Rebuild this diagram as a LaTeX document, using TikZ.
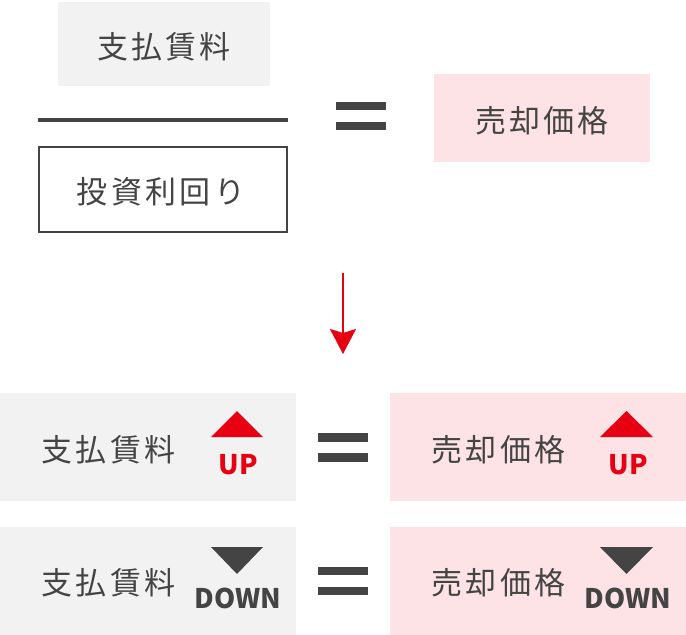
\documentclass[tikz,border=0pt]{standalone}
\usepackage{fontspec}
\setmainfont{Noto Sans CJK JP}
\usetikzlibrary{arrows.meta}
\definecolor{txt}{HTML}{444444}
\definecolor{graybg}{HTML}{F2F2F2}
\definecolor{pinkbg}{HTML}{FDE3E6}
\definecolor{upred}{HTML}{E60012}
\newcommand{\ls}{\kern3.3pt}
\begin{document}
\begin{tikzpicture}[x=1pt,y=-1pt,
  jp/.style={text=txt, inner sep=0, font=\fontsize{31}{31}\selectfont},
  graybox/.style={fill=graybg, inner sep=0, outer sep=0},
  pinkbox/.style={fill=pinkbg, inner sep=0, outer sep=0},
  lineframe/.style={draw=txt, line width=2pt, inner sep=0, outer sep=0},
  eqbar/.style={fill=txt},
  uplabel/.style={text=upred, inner sep=0, font=\fontsize{27}{27}\selectfont\bfseries},
  downlabel/.style={text=txt, inner sep=0, font=\fontsize{27}{27}\selectfont\bfseries},
  uptri/.style={fill=upred},
  downtri/.style={fill=txt},
  flow/.style={draw=upred, line width=2pt, -{Stealth[length=25pt, width=26pt, inset=4pt]}}
]
\useasboundingbox (0,0) rectangle (686,635);
% top formula
\node[graybox, minimum width=212pt, minimum height=84pt] (rentbox) at (164,44) {};
\node[jp] (rent) at (164,47) {支\ls 払\ls 賃\ls 料};
\draw[txt, line width=4pt] (38,120) coordinate (rulel) -- (288,120) coordinate (ruler);
\node[lineframe, minimum width=248pt, minimum height=85pt] (yieldbox) at (163,189.5) {};
\node[jp] (yield) at (161,192) {投\ls 資\ls 利\ls 回\ls り};
\fill[eqbar] (336,102) rectangle (386,110);
\fill[eqbar] (336,122) rectangle (386,130);
\node[pinkbox, minimum width=216pt, minimum height=88pt] (pricebox) at (542,118) {};
\node[jp] (price) at (542,121) {売\ls 却\ls 価\ls 格};
% arrow
\coordinate (arrs) at (343,273);
\coordinate (arre) at (343,354);
\draw[flow] (arrs) -- (arre);
% row 1
\node[graybox, minimum width=296pt, minimum height=108pt, anchor=north west] (rent1box) at (0,393) {};
\node[jp] (rent1) at (108.5,450) {支\ls 払\ls 賃\ls 料};
\fill[uptri] (211,437) -- (237,411) -- (263,437) -- cycle;
\node[uplabel] (up1) at (238,465) {UP};
\fill[eqbar] (318,433) rectangle (368,441.5);
\fill[eqbar] (318,453) rectangle (368,461.5);
\node[pinkbox, minimum width=296pt, minimum height=108pt, anchor=north west] (price1box) at (390,393) {};
\node[jp] (price1) at (498.5,450) {売\ls 却\ls 価\ls 格};
\fill[uptri] (600,437) -- (626.5,411) -- (653,437) -- cycle;
\node[uplabel] (up2) at (628.5,465) {UP};
% row 2
\node[graybox, minimum width=296pt, minimum height=108pt, anchor=north west] (rent2box) at (0,527) {};
\node[jp] (rent2) at (108.5,583) {支\ls 払\ls 賃\ls 料};
\fill[downtri] (211,547) -- (263,547) -- (237,574) -- cycle;
\node[downlabel] (down1) at (238,598.5) {DOWN};
\fill[eqbar] (318,567) rectangle (368,575);
\fill[eqbar] (318,587) rectangle (368,595);
\node[pinkbox, minimum width=296pt, minimum height=108pt, anchor=north west] (price2box) at (390,527) {};
\node[jp] (price2) at (498.5,583) {売\ls 却\ls 価\ls 格};
\fill[downtri] (600,547) -- (653,547) -- (626.5,574) -- cycle;
\node[downlabel] (down2) at (628,598.5) {DOWN};
\end{tikzpicture}
\end{document}
